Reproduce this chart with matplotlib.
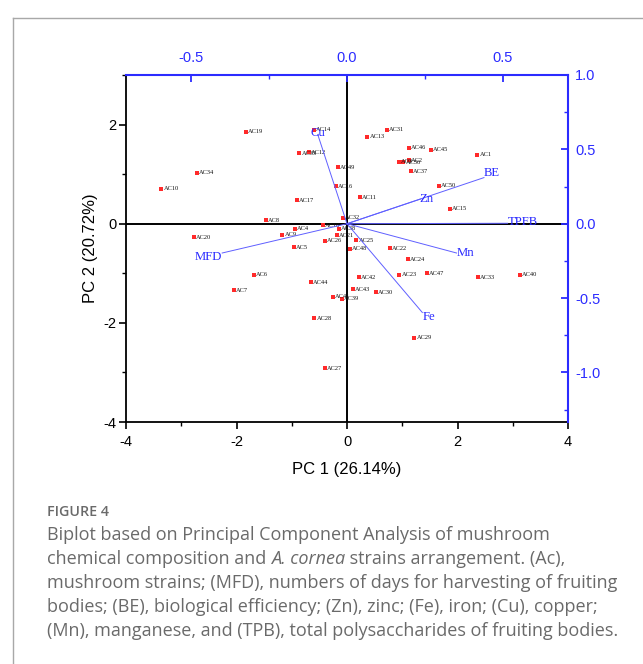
import matplotlib
matplotlib.use("Agg")
import matplotlib.pyplot as plt
from matplotlib.lines import Line2D
from matplotlib.ticker import MultipleLocator

plt.rcParams["axes.unicode_minus"] = False

# ---- data: PCA scores ----
labels = ["AC1", "AC2", "AC3", "AC4", "AC5", "AC6", "AC7", "AC8", "AC9", "AC10",
          "AC11", "AC12", "AC13", "AC14", "AC15", "AC16", "AC17", "AC18", "AC19", "AC20",
          "AC21", "AC22", "AC23", "AC24", "AC25", "AC26", "AC27", "AC28", "AC29", "AC30",
          "AC31", "AC32", "AC33", "AC34", "AC35", "AC36", "AC37", "AC38", "AC39", "AC40",
          "AC41", "AC42", "AC43", "AC44", "AC45", "AC46", "AC47", "AC48", "AC49", "AC50"]
pc1 = [2.36, 1.12, 0.94, -0.94, -0.96, -1.68, -2.05, -1.47, -1.17, -3.36,
       0.24, -0.69, 0.37, -0.60, 1.86, -0.20, -0.91, -0.44, -1.83, -2.77,
       -0.18, 0.78, 0.95, 1.11, 0.17, -0.40, -0.40, -0.59, 1.22, 0.52,
       0.72, -0.07, 2.37, -2.71, -0.86, 1.02, 1.16, -0.15, -0.09, 3.13,
       -0.26, 0.22, 0.10, -0.65, 1.52, 1.12, 1.45, 0.06, -0.17, 1.67]
pc2 = [1.39, 1.28, 1.25, -0.10, -0.47, -1.03, -1.34, 0.07, -0.22, 0.71,
       0.53, 1.44, 1.75, 1.90, 0.30, 0.76, 0.47, -0.03, 1.86, -0.27,
       -0.23, -0.49, -1.03, -0.72, -0.33, -0.34, -2.92, -1.91, -2.30, -1.38,
       1.90, 0.12, -1.08, 1.03, 1.42, 1.24, 1.06, -0.10, -1.51, -1.03,
       -1.47, -1.08, -1.32, -1.18, 1.49, 1.53, -1.00, -0.50, 1.14, 0.77]

# ---- data: loadings ----
variables = ["Cu", "BE", "Zn", "TPFB", "Mn", "Fe", "MFD"]
load_x = [-0.094, 0.44, 0.236, 0.516, 0.352, 0.242, -0.401]
load_y = [0.60, 0.31, 0.166, 0.003, -0.197, -0.597, -0.197]

x_ticks = [-4, -2, 0, 2, 4]
y_ticks = [-4, -2, 0, 2]
top_ticks = [-0.5, 0.0, 0.5]
right_ticks = [-1.0, -0.5, 0.0, 0.5, 1.0]

caption_title = "FIGURE 4"
# each line: list of (text, italic)
caption_lines = [
    [("Biplot based on Principal Component Analysis of mushroom", False)],
    [("chemical composition and ", False), ("A. cornea", True),
     (" strains arrangement. (Ac),", False)],
    [("mushroom strains; (MFD), numbers of days for harvesting of fruiting", False)],
    [("bodies; (BE), biological efficiency; (Zn), zinc; (Fe), iron; (Cu), copper;", False)],
    [("(Mn), manganese, and (TPB), total polysaccharides of fruiting bodies.", False)],
]

BLUE = "#2b2bff"
VEC = "#5f5fff"
PTRED = "#ff2a2a"

W, H = 643, 664
fig = plt.figure(figsize=(W / 100, H / 100), dpi=100)
fig.patch.set_facecolor("white")

# card border
fig.add_artist(Line2D([13 / W, 13 / W], [0, 1 - 18 / H], color="#a8a8a8", lw=1.0))
fig.add_artist(Line2D([13 / W, 1], [1 - 18 / H, 1 - 18 / H], color="#a8a8a8", lw=1.0))

pos = [126 / W, 1 - 422 / H, (568 - 126) / W, (422 - 75) / H]
ax = fig.add_axes(pos)
ax.set_xlim(-4, 4)
ax.set_ylim(-4, 3)
ax.set_xticks(x_ticks)
ax.set_yticks(y_ticks)
ax.xaxis.set_minor_locator(MultipleLocator(1))
ax.yaxis.set_minor_locator(MultipleLocator(1))
ax.spines["top"].set_visible(False)
ax.spines["right"].set_visible(False)
for s in ["left", "bottom"]:
    ax.spines[s].set_linewidth(1.3)
    ax.spines[s].set_color("black")
ax.tick_params(axis="both", which="major", direction="out", length=5, width=1.2,
               labelsize=10.5, pad=2)
ax.tick_params(axis="x", which="major", pad=4)
ax.tick_params(axis="both", which="minor", direction="out", length=3, width=1.0)
for t in ax.get_xticklabels() + ax.get_yticklabels():
    t.set_fontfamily("Liberation Sans")
ax.axhline(0, color="black", lw=1.4, zorder=1)
ax.axvline(0, color="black", lw=1.4, zorder=1)
ax.set_xlabel("PC 1 (26.14%)", fontsize=12, family="Liberation Sans", labelpad=10)
ax.set_ylabel("PC 2 (20.72%)", fontsize=12, family="Liberation Sans", labelpad=4)

ax.scatter(pc1, pc2, marker="s", s=8, color=PTRED, linewidths=0, zorder=3)
for lab, x, y in zip(labels, pc1, pc2):
    ax.annotate(lab, (x, y), xytext=(1.5, 0), textcoords="offset points",
                fontsize=4.6, family="Liberation Serif", va="center", ha="left",
                color="#111111", zorder=4)

# loadings axes (top / right)
ax2 = fig.add_axes(pos, facecolor="none")
ax2.set_xlim(-0.71, 0.71)
ax2.set_ylim(-4 / 3, 1.0)
ax2.xaxis.tick_top()
ax2.yaxis.tick_right()
ax2.set_xticks(top_ticks)
ax2.set_yticks(right_ticks)
ax2.set_xticklabels([f"{v:.1f}" for v in top_ticks])
ax2.set_yticklabels([f"{v:.1f}" for v in right_ticks])
ax2.xaxis.set_minor_locator(MultipleLocator(0.25))
ax2.yaxis.set_minor_locator(MultipleLocator(0.25))
ax2.spines["left"].set_visible(False)
ax2.spines["bottom"].set_visible(False)
for s in ["top", "right"]:
    ax2.spines[s].set_color(BLUE)
    ax2.spines[s].set_linewidth(1.5)
ax2.tick_params(axis="both", which="major", direction="in", length=5, width=1.3,
                colors=BLUE, labelsize=10.5, pad=5)
ax2.tick_params(axis="both", which="minor", direction="in", length=3, width=1.0,
                colors=BLUE)
ax2.tick_params(axis="x", which="major", pad=7)
for t in ax2.get_xticklabels() + ax2.get_yticklabels():
    t.set_fontfamily("Liberation Sans")
    t.set_color(BLUE)

label_style = {
    "Cu": dict(ha="center", va="center", off=(0, 1)),
    "BE": dict(ha="left", va="center", off=(0, 3)),
    "Zn": dict(ha="left", va="center", off=(-1, 0)),
    "TPFB": dict(ha="left", va="center", off=(0, 1)),
    "Mn": dict(ha="left", va="center", off=(0, 0)),
    "Fe": dict(ha="left", va="center", off=(0, -3)),
    "MFD": dict(ha="right", va="center", off=(0, -3)),
}
for name, lx, ly in zip(variables, load_x, load_y):
    ax2.plot([0, lx], [0, ly], color=VEC, lw=0.7, zorder=5)
    st = label_style[name]
    ax2.annotate(name, (lx, ly), xytext=st["off"], textcoords="offset points",
                 ha=st["ha"], va=st["va"], fontsize=9.2, family="Liberation Serif",
                 color=BLUE, zorder=6)

# caption
fig.text(47 / W, 1 - 512 / H, caption_title, fontsize=10.3, family="Open Sans",
         color="#6a6a6a", va="center", ha="left", fontstretch="condensed",
         fontweight="semibold")
ys = [535, 559, 583, 607, 631]
renderer = fig.canvas.get_renderer()
for yy, parts in zip(ys, caption_lines):
    xpix = 47.0
    for text, italic in parts:
        t = fig.text(xpix / W, 1 - yy / H, text, fontsize=13.0, family="Open Sans",
                     style="italic" if italic else "normal",
                     color="#6a6a6a", va="center", ha="left")
        bb = t.get_window_extent(renderer=renderer)
        xpix += bb.width

fig.savefig("out.png", dpi=100)
